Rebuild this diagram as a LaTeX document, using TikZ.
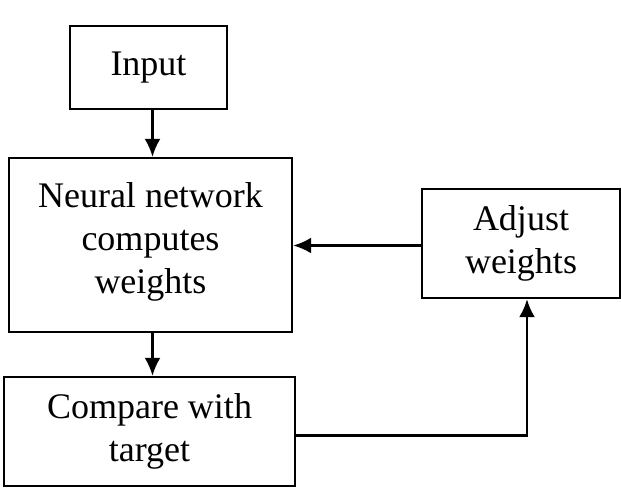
\documentclass[tikz,border=0pt]{standalone}
\usepackage{fontspec}
\setmainfont{Liberation Serif}
\usetikzlibrary{arrows.meta}

\begin{document}
\begin{tikzpicture}[x=0.5pt, y=-0.5pt, >={Latex[length=9pt,width=8pt]}, line width=1.2pt]

\tikzset{stepbox/.style={draw, line width=1.2pt, align=center, inner sep=0pt,
  font=\fontsize{18}{21.5}\selectfont}}

\useasboundingbox (0,0) rectangle (621,488);

\node[stepbox, minimum width=78.5pt, minimum height=41.5pt](input) at (148.5,67.5){Input};
\node[stepbox, minimum width=141.5pt, minimum height=87pt](nn) at (150.5,245){Neural network\\computes\\weights\\[-14.5pt]};
\node[stepbox, minimum width=99pt, minimum height=54.5pt](adjust) at (521,243.5){Adjust\\weights};
\node[stepbox, minimum width=145.5pt, minimum height=54.5pt](compare) at (149.5,431.5){Compare with\\target};

\draw[->] ([xshift=2pt]input.south) -- ([xshift=2pt]input.south |- nn.north);
\draw[->] ([xshift=1pt]nn.south) -- ([xshift=1pt]nn.south |- compare.north);
\draw[->] ([yshift=-1pt]adjust.west) -- ([yshift=-1pt]adjust.west -| nn.east);
\draw[->] ([yshift=-2pt]compare.east) -| ([xshift=3pt]adjust.south);

\end{tikzpicture}
\end{document}
